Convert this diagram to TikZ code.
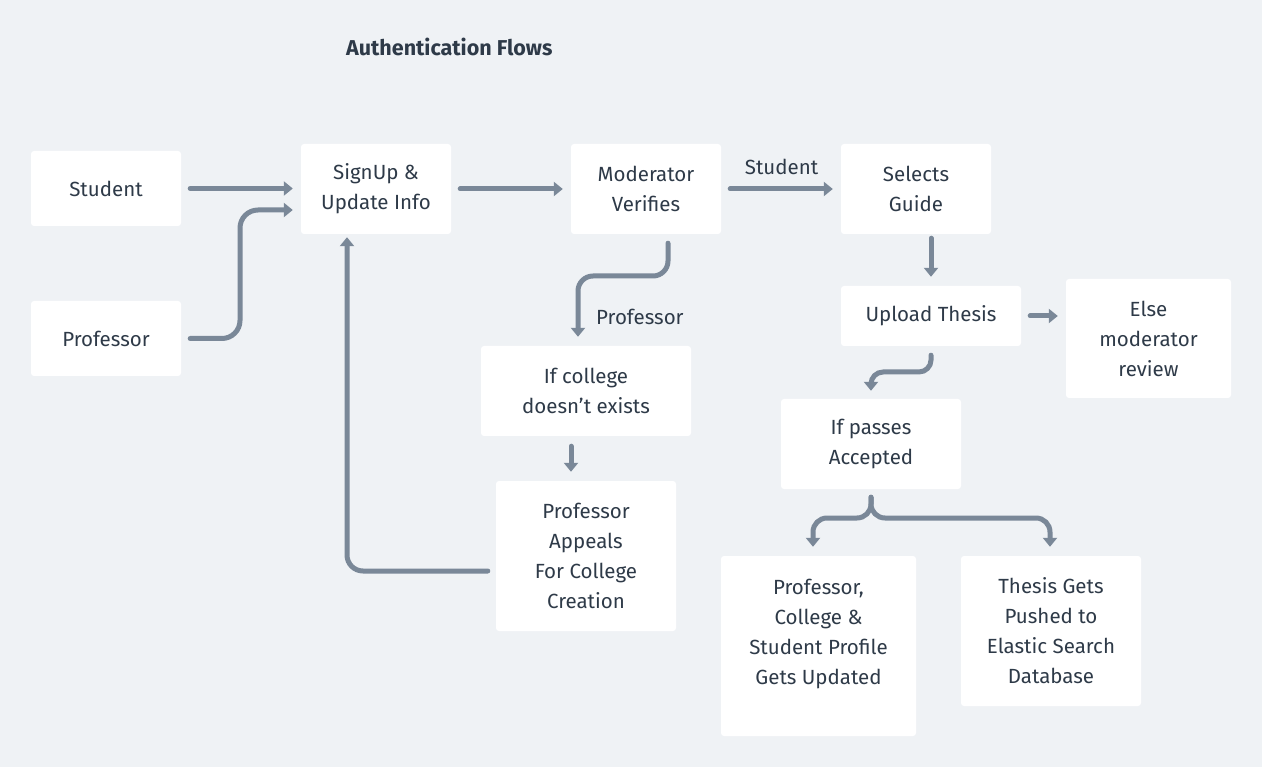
\documentclass[tikz,border=0pt]{standalone}
\usepackage{fontspec}
\setmainfont{Fira Sans}
\usetikzlibrary{arrows.meta}
\definecolor{bg}{HTML}{EFF2F5}
\definecolor{ink}{HTML}{2E3A48}
\definecolor{arr}{HTML}{7A8898}
\begin{document}
\begin{tikzpicture}[x=1pt,y=-1pt,
 box/.style={fill=white, rounded corners=3pt, inner sep=0pt, align=center,
   font=\fontsize{20.5}{30}\selectfont, text=ink},
 conn/.style={draw=arr, line width=5pt, line cap=round, rounded corners=#1,
   -{Triangle[width=14pt,length=9pt]}},
 conn/.default=16pt,
 lbl/.style={font=\fontsize{20.5}{24}\selectfont, text=ink, inner sep=0pt}]
\fill[bg] (0,0) rectangle (1262,767);
\useasboundingbox (0,0) rectangle (1262,767);

\node[anchor=west, font=\fontsize{21.5}{24}\selectfont\bfseries, text=ink, inner sep=0pt] (title) at (346,47) {Authentication Flows};

\node[box, minimum width=150pt, minimum height=75pt] (student) at (106,188.5) {Student};
\node[box, minimum width=150pt, minimum height=75pt] (professor) at (106,338.5) {Professor};
\node[box, minimum width=150pt, minimum height=90pt] (signup) at (376,189) {SignUp \&\\Update Info};
\node[box, minimum width=150pt, minimum height=90pt] (mod) at (646,189) {Moderator\\Verifies};
\node[box, minimum width=150pt, minimum height=90pt] (sel) at (916,189) {Selects\\Guide};
\node[box, minimum width=180pt, minimum height=60pt] (upload) at (931,316) {Upload Thesis};
\node[box, minimum width=165pt, minimum height=119pt] (else) at (1148.5,338.5) {Else\\moderator\\review};
\node[box, minimum width=210pt, minimum height=90pt] (college) at (586,391) {If college\\doesn’t exists};
\node[box, minimum width=180pt, minimum height=150pt] (appeals) at (586,556) {Professor\\Appeals\\For College\\Creation};
\node[box, minimum width=180pt, minimum height=90pt] (passes) at (871,444) {If passes\\Accepted};
\node[box, minimum width=195pt, minimum height=180pt] (profile) at (818.5,646) {};
\node[lbl, align=center, font=\fontsize{20.5}{30}\selectfont] (profiletext) at (818.5,634) {Professor,\\College \&\\Student Profile\\Gets Updated};
\node[box, minimum width=180pt, minimum height=150pt] (thesis) at (1051,631) {Thesis Gets\\Pushed to\\Elastic Search\\Database};

% connectors
\draw[conn] ([xshift=9pt]student.east) -- ([xshift=-8pt]signup.west |- student.east);
\draw[conn=18pt] ([xshift=9pt]professor.east) -- (240,338.5) -- (240,210) -- ([xshift=-8pt]signup.west |- 0,210);
\draw[conn] ([xshift=9pt]signup.east) -- ([xshift=-8pt]mod.west);
\draw[conn] ([xshift=9pt]mod.east) -- node[lbl, above=12pt] {Student} ([xshift=-8pt]sel.west);
\draw[conn=15pt] ([xshift=22pt,yshift=-9pt]mod.south) -- (668,276) -- (578,276) -- ([yshift=9pt]college.north -| 578,0);
\node[lbl, anchor=west] (proflbl) at (596,317) {Professor};
\draw[conn] ([xshift=-15pt,yshift=-10pt]college.south) -- ([xshift=-15pt,yshift=9pt]appeals.north);
\draw[conn=16pt] ([xshift=-8pt,yshift=-15pt]appeals.west) -- (347,571) -- ([yshift=-3pt]signup.south -| 347,0);
\draw[conn] ([xshift=15pt,yshift=-4pt]sel.south) -- ([yshift=9pt]upload.north);
\draw[conn] ([xshift=9pt]upload.east) -- ([xshift=-8pt]else.west |- upload.east);
\draw[conn=12pt] ([yshift=-9pt]upload.south) -- (931,372) -- (871,372) -- ([yshift=8pt]passes.north);
\draw[conn=14pt] ([yshift=-8pt]passes.south) -- (871,518) -- (813,518) -- ([yshift=9pt]profile.north -| 813,0);
\draw[conn=14pt] ([yshift=-8pt]passes.south) -- (871,518) -- (1050,518) -- ([yshift=9pt]thesis.north -| 1050,0);
\end{tikzpicture}
\end{document}
